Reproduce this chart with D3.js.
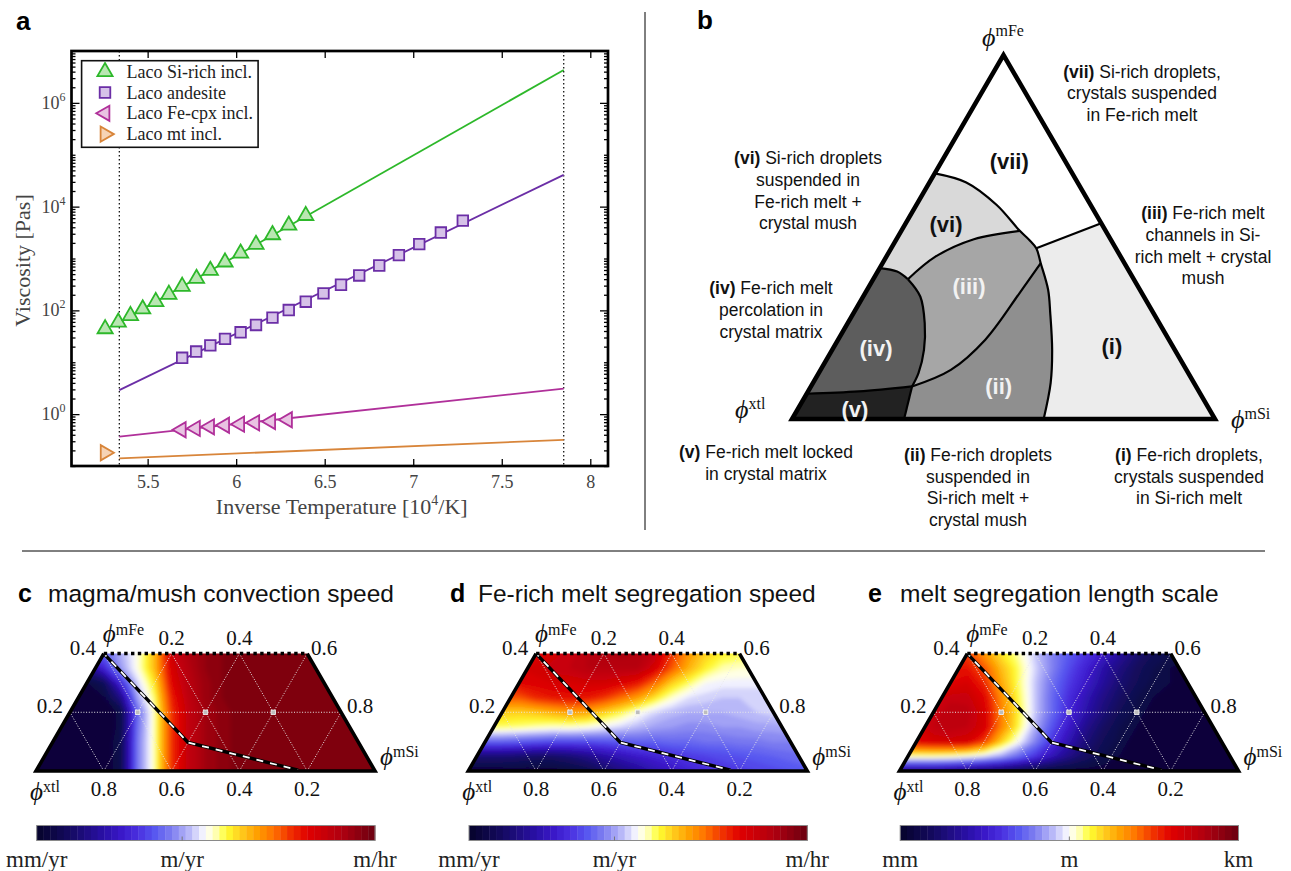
<!DOCTYPE html>
<html>
<head>
<meta charset="utf-8">
<script src="https://cdn.jsdelivr.net/npm/d3@7"></script>
<style>
  body { margin: 0; background: #fff; }
  svg { display: block; }
  .serif { font-family: "Liberation Serif", "DejaVu Serif", serif; }
  .sans { font-family: "Liberation Sans", Arial, sans-serif; }
</style>
</head>
<body>
<svg id="fig" width="1291" height="871">
  <defs>
    <filter id="soft" x="-5%" y="-5%" width="110%" height="110%">
      <feGaussianBlur stdDeviation="2.2"/>
    </filter>
  </defs>
</svg>
<script>
// ---------- panel a: viscosity vs inverse temperature ----------
const xTicksA = [5.5, 6, 6.5, 7, 7.5, 8];
const yTicksA = [1, 100, 1e4, 1e6];
const boundaryX = [5.34, 7.85];

const siRichX = [5.26, 5.334, 5.403, 5.472, 5.546, 5.62, 5.695, 5.776, 5.854, 5.937, 6.025, 6.112, 6.205, 6.297, 6.393];
const siRichVisc = [44, 59, 79, 106, 147, 203, 290, 412, 587, 851, 1259, 1862, 2858, 4365, 6714];
const andesiteX = [5.695, 5.774, 5.854, 5.937, 6.025, 6.112, 6.205, 6.297, 6.393, 6.493, 6.592, 6.695, 6.808, 6.919, 7.034, 7.156, 7.28];
const andesiteVisc = [12.2, 16.1, 21.2, 28.2, 37.8, 52.4, 72.4, 101.6, 146.9, 212.3, 311.9, 471, 733, 1161, 1892, 3162, 5370];
const feCpxX = [5.69, 5.77, 5.85, 5.935, 6.02, 6.105, 6.195, 6.29];
const feCpxVisc = [0.50, 0.53, 0.57, 0.61, 0.64, 0.68, 0.72, 0.78];
const mtX = [5.26];
const mtVisc = [0.18];

// fitted lines, evaluated at the two dotted bounds
const fitX = [5.34, 7.85];
const siRichFit = [59, 4.3e6];
const andesiteFit = [2.9, 4.1e4];
const feCpxFit = [0.37, 3.1];
const mtFit = [0.14, 0.32];

// ---------- panel b: regime diagram (points are [phi_mSi, phi_mFe]) ----------
const mainBoundary = [[0, 0.675], [0.087, 0.65], [0.19, 0.588], [0.28, 0.517], [0.315, 0.492], [0.343, 0.469],
  [0.374, 0.428], [0.428, 0.355], [0.465, 0.291], [0.52, 0.19], [0.562, 0.099], [0.595, 0]];
const viIiiBoundary = [[0.082, 0.384], [0.116, 0.446], [0.183, 0.494], [0.28, 0.517]];
const ivViBoundary = [[0, 0.4145], [0.046, 0.405], [0.082, 0.384]];
const ivIiiBoundary = [[0.082, 0.384], [0.135, 0.3365], [0.182, 0.2635], [0.217, 0.19], [0.236, 0.126], [0.239, 0.0895]];
const iiIiiBoundary = [[0.374, 0.428], [0.365, 0.346], [0.348, 0.218], [0.308, 0.135], [0.239, 0.0895]];
const ivVBoundary = [[0, 0.0694], [0.12, 0.0758], [0.239, 0.0895]];
const vIiBoundary = [[0.239, 0.0895], [0.265, 0]];
const viiILine = [[0.343, 0.469], [0.462, 0.538]];

const regimeNames = ["(vii)", "(vi)", "(iii)", "(iv)", "(ii)", "(v)", "(i)"];
const regimeAt = [[0.16, 0.707], [0.097, 0.534], [0.236, 0.365], [0.101, 0.195], [0.444, 0.089], [0.136, 0.0255], [0.657, 0.1985]];

// ---------- panels c-e: fields, in % of the colour-bar range ----------
const fieldU = [0, 0.05, 0.1, 0.15, 0.2, 0.25, 0.3, 0.35, 0.4, 0.45, 0.5, 0.55, 0.6, 0.65, 0.7, 0.75, 0.8, 0.85, 0.9, 0.95, 1];
const fieldFe = [0, 0.05, 0.1, 0.15, 0.2, 0.25, 0.3, 0.35, 0.4];
const gridLevels = [0.2, 0.4, 0.6, 0.8];
const phaseLine = [[0, 0.4], [0.4, 0.097], [0.772, 0.003]];

const convectionSpeed = [
  [2, 2, 2, 2, 2, 6, 39, 53, 75, 86, 92, 95, 97, 97, 97, 97, 97, 97, 97, 97, 97],
  [2, 2, 2, 2, 2, 6, 39, 53, 75, 86, 92, 95, 97, 97, 97, 97, 97, 97, 97, 97, 97],
  [2, 2, 2, 2, 2, 6, 39, 53, 75, 86, 92, 95, 97, 97, 97, 97, 97, 97, 97, 97, 97],
  [2, 2, 2, 2, 2, 5, 38, 53, 75, 86, 92, 95, 97, 97, 97, 97, 97, 97, 97, 97, 97],
  [2, 2, 2, 2, 2, 5, 37, 53, 75, 86, 92, 95, 97, 97, 97, 97, 97, 97, 97, 97, 97],
  [3, 3, 3, 3, 4, 15, 43, 55, 77, 87, 93, 96, 97, 97, 97, 97, 97, 97, 97, 97, 97],
  [4, 4, 4, 4, 8, 28, 47, 58, 80, 88, 93, 96, 97, 97, 97, 97, 97, 97, 97, 97, 97],
  [15, 15, 15, 15, 27, 42, 51, 62, 82, 89, 94, 96, 97, 97, 97, 97, 97, 97, 97, 97, 97],
  [36, 36, 36, 36, 36, 44, 51, 62, 84, 90, 94, 96, 97, 97, 97, 97, 97, 97, 97, 97, 97]
];
const segregationSpeed = [
  [3, 3, 3, 3, 3, 3, 4, 6, 10, 14, 17, 21, 24, 27, 29, 30, 31, 32, 33, 34, 35],
  [12, 12, 12, 11, 10, 10, 12, 15, 19, 22, 25, 27, 29, 31, 32, 33, 34, 35, 36, 37, 38],
  [36, 36, 36, 35, 34, 33, 33, 33, 34, 35, 36, 36, 37, 37, 38, 38, 39, 39, 40, 40, 41],
  [55, 55, 55, 54, 53, 52, 52, 51, 49, 47, 45, 43, 42, 41, 41, 42, 42, 43, 43, 44, 44],
  [60, 60, 60, 60, 61, 63, 65, 64, 60, 56, 51, 47, 45, 44, 44, 44, 45, 46, 47, 47, 47],
  [72, 72, 72, 72, 76, 78, 79, 78, 75, 70, 65, 58, 52, 48, 47, 46, 46, 46, 47, 47, 47],
  [80, 80, 80, 80, 81, 82, 82, 83, 83, 81, 78, 70, 60, 55, 50, 49, 49, 49, 49, 49, 49],
  [82, 82, 82, 82, 83, 85, 86, 88, 88, 88, 88, 82, 72, 63, 57, 53, 52, 52, 52, 52, 52],
  [80, 80, 80, 80, 80, 83, 85, 88, 90, 91, 90, 86, 75, 66, 60, 57, 56, 56, 56, 56, 56]
];
const segregationLength = [
  [15, 15, 15, 14, 12, 10, 8, 6, 4, 3, 3, 3, 3, 3, 3, 3, 3, 3, 3, 3, 3],
  [53, 53, 53, 52, 50, 47, 43, 37, 30, 22, 15, 10, 6, 4, 3, 3, 3, 3, 3, 3, 3],
  [80, 80, 82, 83, 82, 74, 60, 50, 40, 30, 21, 13, 8, 5, 3, 3, 3, 3, 3, 3, 3],
  [82, 82, 86, 87, 86, 82, 68, 56, 44, 34, 25, 16, 10, 6, 4, 3, 3, 3, 3, 3, 3],
  [84, 84, 84, 88, 87, 82, 68, 57, 46, 37, 28, 20, 13, 8, 5, 3, 3, 3, 3, 3, 3],
  [82, 82, 82, 85, 85, 80, 67, 56, 46, 37, 29, 22, 15, 10, 6, 4, 3, 3, 3, 3, 3],
  [80, 80, 80, 80, 82, 76, 64, 55, 46, 38, 31, 25, 18, 12, 8, 5, 4, 3, 3, 3, 3],
  [78, 78, 78, 78, 78, 72, 62, 55, 47, 40, 33, 27, 20, 14, 9, 6, 4, 3, 3, 3, 3],
  [74, 74, 74, 74, 74, 66, 58, 53, 46, 40, 35, 30, 25, 18, 12, 8, 6, 5, 5, 5, 5]
];

const cmapStops = [0, 0.1, 0.2, 0.25, 0.3, 0.35, 0.4, 0.45, 0.5, 0.53, 0.56, 0.6, 0.65, 0.7, 0.75, 0.8, 0.9, 1];
const cmapColors = ["#05032a", "#150a62", "#2a10a8", "#3a18c8", "#4a30e0", "#5858f0", "#8080f0", "#b8b8f8", "#ffffff",
  "#ffffb0", "#ffff30", "#ffd020", "#ffa000", "#ff7000", "#f03000", "#e00000", "#b00010", "#6a0010"];
const cmap = d3.scaleLinear().domain(cmapStops).range(cmapColors).interpolate(d3.interpolateRgb);
const cbLevels = d3.range(0, 1, 0.02);

const svg = d3.select("#fig");

// ===================== panel a =====================
const aLeft = 71.5, aRight = 608, aTop = 51, aBottom = 466;
const xA = d3.scaleLinear().domain([5.07, 8.1]).range([aLeft, aRight]);
const yA = d3.scaleLog().domain([0.1, 1e7]).range([aBottom, aTop]);

const seriesA = [
  { name: "Laco Si-rich incl.", x: siRichX, y: siRichVisc, fit: siRichFit, stroke: "#2db82a", fill: "#b9e6b2", type: d3.symbolTriangle, size: 100, rot: 0 },
  { name: "Laco andesite", x: andesiteX, y: andesiteVisc, fit: andesiteFit, stroke: "#6b2ea6", fill: "#d6c2e8", type: d3.symbolSquare, size: 112, rot: 0 },
  { name: "Laco Fe-cpx incl.", x: feCpxX, y: feCpxVisc, fit: feCpxFit, stroke: "#b0309a", fill: "#e9c3e2", type: d3.symbolTriangle, size: 100, rot: -90 },
  { name: "Laco mt incl.", x: mtX, y: mtVisc, fit: mtFit, stroke: "#d8853a", fill: "#f6d3b5", type: d3.symbolTriangle, size: 100, rot: 90 }
];

svg.append("clipPath").attr("id", "clipA").append("rect")
  .attr("x", aLeft).attr("y", aTop).attr("width", aRight - aLeft).attr("height", aBottom - aTop);
const plotA = svg.append("g").attr("clip-path", "url(#clipA)");

plotA.selectAll(".bound").data(boundaryX).join("line")
  .attr("x1", d => xA(d)).attr("x2", d => xA(d)).attr("y1", aTop).attr("y2", aBottom)
  .attr("stroke", "#000").attr("stroke-width", 1.2).attr("stroke-dasharray", "1.4,2.6");

const fitLine = d3.line().x(d => xA(d[0])).y(d => yA(d[1]));
seriesA.forEach(s => {
  plotA.append("path").attr("d", fitLine(d3.zip(fitX, s.fit)))
    .attr("fill", "none").attr("stroke", s.stroke).attr("stroke-width", 1.8);
});
seriesA.forEach(s => {
  plotA.append("g").selectAll("path").data(d3.zip(s.x, s.y)).join("path")
    .attr("d", d3.symbol().type(s.type).size(s.size))
    .attr("transform", d => `translate(${xA(d[0])},${yA(d[1])}) rotate(${s.rot})`)
    .attr("fill", s.fill).attr("stroke", s.stroke).attr("stroke-width", 1.8);
});

// ticks on all four sides
const minorY = yA.ticks().filter(v => !yTicksA.includes(v));
const noDomain = g => g.select(".domain").remove();
svg.append("g").attr("transform", `translate(0,${aBottom})`)
  .call(d3.axisBottom(xA).tickValues(xTicksA).tickSize(-7).tickPadding(9).tickFormat(d3.format(".1~f")))
  .call(noDomain)
  .call(g => g.selectAll("text").attr("class", "serif").attr("font-size", 18).attr("fill", "#444"));
svg.append("g").attr("transform", `translate(0,${aTop})`)
  .call(d3.axisTop(xA).tickValues(xTicksA).tickSize(-7).tickFormat("")).call(noDomain);
[[aLeft, d3.axisLeft], [aRight, d3.axisRight]].forEach(([x, axis]) => {
  svg.append("g").attr("transform", `translate(${x},0)`)
    .call(axis(yA).tickValues(yTicksA).tickSize(-8).tickFormat("")).call(noDomain);
  svg.append("g").attr("transform", `translate(${x},0)`)
    .call(axis(yA).tickValues(minorY).tickSize(-4).tickFormat("")).call(noDomain);
});
svg.selectAll(".tick line").attr("stroke", "#000").attr("stroke-width", 1.3);

const yLab = svg.append("g").selectAll("text").data(yTicksA).join("text")
  .attr("class", "serif").attr("font-size", 18).attr("fill", "#444").attr("text-anchor", "end")
  .attr("x", aLeft - 6).attr("y", d => yA(d) + 6);
yLab.append("tspan").text("10");
yLab.append("tspan").attr("font-size", 12).attr("dy", -8).text(d => Math.round(Math.log10(d)));

svg.append("rect").attr("x", aLeft).attr("y", aTop).attr("width", aRight - aLeft).attr("height", aBottom - aTop)
  .attr("fill", "none").attr("stroke", "#000").attr("stroke-width", 2.7);

svg.append("text").attr("class", "serif").attr("font-size", 22).attr("fill", "#444")
  .attr("text-anchor", "middle").attr("transform", `translate(30,${(aTop + aBottom) / 2 + 2}) rotate(-90)`)
  .text("Viscosity [Pas]");
const xTitle = svg.append("text").attr("class", "serif").attr("font-size", 22).attr("fill", "#444")
  .attr("text-anchor", "middle").attr("x", (aLeft + aRight) / 2 + 2).attr("y", 514);
xTitle.append("tspan").text("Inverse Temperature [10");
xTitle.append("tspan").attr("font-size", 14).attr("dy", -9).text("4");
xTitle.append("tspan").attr("dy", 9).text("/K]");

// legend
const legA = svg.append("g");
legA.append("rect").attr("x", 81.6).attr("y", 60.7).attr("width", 176.5).attr("height", 86.6)
  .attr("fill", "#fff").attr("stroke", "#111").attr("stroke-width", 1.6);
seriesA.forEach((s, i) => {
  const y = 71.7 + i * 20.8;
  legA.append("path").attr("d", d3.symbol().type(s.type).size(s.size))
    .attr("transform", `translate(105,${y}) rotate(${s.rot})`)
    .attr("fill", s.fill).attr("stroke", s.stroke).attr("stroke-width", 1.8);
  legA.append("text").attr("class", "serif").attr("font-size", 18).attr("fill", "#222")
    .attr("x", 126.5).attr("y", y + 6).text(s.name);
});

svg.append("text").attr("class", "sans").attr("font-weight", "bold").attr("font-size", 26)
  .attr("x", 16).attr("y", 30).text("a");

// dividers
svg.append("line").attr("x1", 645).attr("x2", 645).attr("y1", 12).attr("y2", 530).attr("stroke", "#000").attr("stroke-width", 1);
svg.append("line").attr("x1", 22).attr("x2", 1265).attr("y1", 551).attr("y2", 551).attr("stroke", "#000").attr("stroke-width", 1);

// ===================== panel b =====================
const tx = d3.scaleLinear().domain([0, 1]).range([792, 1215]);
const ty = d3.scaleLinear().domain([0, 1]).range([419, 55]);
const tp = d => [tx(d[0] + d[1] / 2), ty(d[1])];
const tCurve = d3.line().x(d => tp(d)[0]).y(d => tp(d)[1]).curve(d3.curveCatmullRom.alpha(0.5));
const rev = a => a.slice().reverse();
const region = (...parts) => parts.map((p, i) => {
  const s = tCurve(p);
  return i ? s.replace(/^M/, "L") : s;
}).join("") + "Z";

const apex = [0, 1], xtlCorner = [0, 0], siCorner = [1, 0];
const L1 = ivViBoundary[0], L2 = ivVBoundary[0], B1 = vIiBoundary[1], H = mainBoundary[11], R = viiILine[1];
const gB = svg.append("g");
const regimes = [
  { fill: "#ffffff", d: region([apex, mainBoundary[0]], mainBoundary.slice(0, 6), viiILine, [R, apex]) },
  { fill: "#d9d9d9", d: region(mainBoundary.slice(0, 4), rev(viIiiBoundary), rev(ivViBoundary), [L1, mainBoundary[0]]) },
  { fill: "#a6a6a6", d: region(viIiiBoundary, mainBoundary.slice(3, 7), iiIiiBoundary, rev(ivIiiBoundary)) },
  { fill: "#5d5d5d", d: region(ivViBoundary, ivIiiBoundary, rev(ivVBoundary), [L2, L1]) },
  { fill: "#222222", d: region(ivVBoundary, vIiBoundary, [B1, xtlCorner], [xtlCorner, L2]) },
  { fill: "#8f8f8f", d: region(rev(iiIiiBoundary), mainBoundary.slice(6), [H, B1], rev(vIiBoundary)) },
  { fill: "#ececec", d: region(rev(viiILine), mainBoundary.slice(5), [H, siCorner], [siCorner, R]) }
];
gB.selectAll(".reg").data(regimes).join("path").attr("d", d => d.d).attr("fill", d => d.fill);
gB.selectAll(".bnd").data([mainBoundary, viIiiBoundary, ivViBoundary, ivIiiBoundary, iiIiiBoundary, ivVBoundary, vIiBoundary, viiILine])
  .join("path").attr("d", tCurve).attr("fill", "none").attr("stroke", "#000").attr("stroke-width", 2.2);
gB.append("path").attr("d", d3.line()([xtlCorner, siCorner, apex].map(tp)) + "Z")
  .attr("fill", "none").attr("stroke", "#000").attr("stroke-width", 4.5).attr("stroke-linejoin", "miter");

const lightText = ["(iii)", "(iv)", "(ii)", "(v)"];
gB.selectAll(".rl").data(regimeNames).join("text").attr("class", "sans")
  .attr("font-weight", "bold").attr("font-size", 22).attr("text-anchor", "middle").attr("dominant-baseline", "central")
  .attr("x", (d, i) => tp(regimeAt[i])[0]).attr("y", (d, i) => tp(regimeAt[i])[1])
  .attr("fill", d => lightText.includes(d) ? "#f2f2f2" : "#111").text(d => d);

const notes = [
  { x: 1142, y: 71.7, tag: "(vii)", lines: [" Si-rich droplets,", "crystals suspended", "in Fe-rich melt"] },
  { x: 808, y: 158.3, tag: "(vi)", lines: [" Si-rich droplets", "suspended in", "Fe-rich melt +", "crystal mush"] },
  { x: 1203, y: 213.3, tag: "(iii)", lines: [" Fe-rich melt", "channels in Si-", "rich melt + crystal", "mush"] },
  { x: 771, y: 288.3, tag: "(iv)", lines: [" Fe-rich melt", "percolation in", "crystal matrix"] },
  { x: 766, y: 452, tag: "(v)", lines: [" Fe-rich melt locked", "in crystal matrix"] },
  { x: 978, y: 455, tag: "(ii)", lines: [" Fe-rich droplets", "suspended in", "Si-rich melt +", "crystal mush"] },
  { x: 1189, y: 455, tag: "(i)", lines: [" Fe-rich droplets,", "crystals suspended", "in Si-rich melt"] }
];
notes.forEach(n => {
  n.lines.forEach((line, i) => {
    const t = gB.append("text").attr("class", "sans").attr("font-size", 17.5).attr("fill", "#111")
      .attr("text-anchor", "middle").attr("dominant-baseline", "central")
      .attr("x", n.x).attr("y", n.y + i * 21.6);
    if (i === 0) t.append("tspan").attr("font-weight", "bold").text(n.tag);
    t.append("tspan").text(line);
  });
});

function phiLabel(g, x, y, sup, size, supSize, raise) {
  const t = g.append("text").attr("class", "serif").attr("font-size", size).attr("x", x).attr("y", y).attr("fill", "#111");
  t.append("tspan").attr("font-style", "italic").text("\u03D5");
  t.append("tspan").attr("font-size", supSize).attr("dy", -raise).text(sup);
  return t;
}
phiLabel(gB, 982, 46, "mFe", 26, 16, 10);
phiLabel(gB, 735, 418, "xtl", 26, 16, 9);
phiLabel(gB, 1231, 428, "mSi", 26, 16, 9);

svg.append("text").attr("class", "sans").attr("font-weight", "bold").attr("font-size", 26)
  .attr("x", 697).attr("y", 29).text("b");

// ===================== panels c, d, e =====================
const panels = [
  { x0: 36, letter: "c", letterX: 18, titleX: 48, title: "magma/mush convection speed", grid: convectionSpeed, cb: ["mm/yr", "m/yr", "m/hr"], cbAt: [0, 0.43, 1] },
  { x0: 468.3, letter: "d", letterX: 450, titleX: 478, title: "Fe-rich melt segregation speed", grid: segregationSpeed, cb: ["mm/yr", "m/yr", "m/hr"], cbAt: [0, 0.43, 1] },
  { x0: 899.5, letter: "e", letterX: 868, titleX: 900, title: "melt segregation length scale", grid: segregationLength, cb: ["mm", "m", "km"], cbAt: [0, 0.5, 1] }
];

panels.forEach(p => {
  const W = 339, Ht = 293.6, yB = 771;
  const g = svg.append("g");
  const ux = d3.scaleLinear().domain([0, 1]).range([p.x0, p.x0 + W]);
  const ry = d3.scaleLinear().domain([0, 1]).range([yB, yB - Ht]);
  const pt = d => [ux(d[0] + d[1] / 2), ry(d[1])];
  const trap = [[0, 0], [0, 0.4], [0.6, 0.4], [1, 0]];
  const clipId = "clip" + p.letter;
  g.append("clipPath").attr("id", clipId).append("path").attr("d", d3.line()(trap.map(pt)) + "Z");

  // colour field from the value grid (filtered first, then clipped)
  const nc = fieldU.length, nr = fieldFe.length;
  const cx = d3.scaleLinear().domain([0.5, nc - 0.5]).range([ux(fieldU[0]), ux(fieldU[nc - 1])]);
  const cy = d3.scaleLinear().domain([0.5, nr - 0.5]).range([ry(fieldFe[0]), ry(fieldFe[nr - 1])]);
  const path = d3.geoPath(d3.geoTransform({ point(x, y) { this.stream.point(cx(x), cy(y)); } }));
  const bands = d3.contours().size([nc, nr]).smooth(true).thresholds(cbLevels)(p.grid.flat().map(v => v / 100));
  const field = g.append("g").attr("clip-path", `url(#${clipId})`)
    .append("g").attr("filter", "url(#soft)");
  field.selectAll("path").data(bands).join("path").attr("d", path)
    .attr("fill", d => cmap(d.value + 0.01)).attr("stroke", d => cmap(d.value + 0.01)).attr("stroke-width", 0.6);

  // ternary grid
  const over = g.append("g").attr("clip-path", `url(#${clipId})`);
  const gridLines = [];
  gridLevels.forEach(v => {
    gridLines.push([[v, 0], [v, 1 - v]]);
    gridLines.push([[1 - v, 0], [0, 1 - v]]);
  });
  gridLines.push([[0, 0.2], [0.8, 0.2]]);
  over.selectAll(".gl").data(gridLines).join("path").attr("d", d => d3.line()(d.map(pt)))
    .attr("stroke", "#e8e8e8").attr("stroke-width", 1).attr("stroke-dasharray", "1,1.7").attr("fill", "none");
  over.selectAll(".nd").data([[0.2, 0.2], [0.4, 0.2], [0.6, 0.2]]).join("rect")
    .attr("x", d => pt(d)[0] - 2.2).attr("y", d => pt(d)[1] - 2.2).attr("width", 4.4).attr("height", 4.4)
    .attr("fill", "#bdbdbd").attr("stroke", "#f4f4f4").attr("stroke-width", 0.8);

  // phase boundary
  const pl = d3.line()(phaseLine.map(pt));
  g.append("path").attr("d", pl).attr("fill", "none").attr("stroke", "#000").attr("stroke-width", 3.4);
  g.append("path").attr("d", pl).attr("fill", "none").attr("stroke", "#fff").attr("stroke-width", 1.8)
    .attr("stroke-dasharray", "7,7").attr("stroke-dashoffset", 3);

  // outline
  g.append("path").attr("d", d3.line()([[0.6, 0.4], [1, 0], [0, 0], [0, 0.4]].map(pt)))
    .attr("fill", "none").attr("stroke", "#000").attr("stroke-width", 3.6).attr("stroke-linejoin", "miter");
  g.append("path").attr("d", d3.line()([[0, 0.4], [0.6, 0.4]].map(pt)))
    .attr("fill", "none").attr("stroke", "#000").attr("stroke-width", 3.6).attr("stroke-dasharray", "3.4,3.4");

  // tick labels
  const lab = (x, y, s) => g.append("text").attr("class", "serif").attr("font-size", 21).attr("fill", "#111")
    .attr("text-anchor", "middle").attr("x", x).attr("y", y).text(s);
  gridLevels.forEach(v => lab(pt([1 - v, 0])[0], yB + 25, d3.format(".1f")(v)));
  [0.2, 0.4].forEach(v => lab(pt([v, 0.4])[0], ry(0.4) - 9, d3.format(".1f")(v)));
  lab(pt([0, 0.4])[0] - 21, ry(0.4) + 1, "0.4");
  lab(pt([0, 0.2])[0] - 20, ry(0.2) + 1, "0.2");
  lab(pt([0.6, 0.4])[0] + 17, ry(0.4) + 1, "0.6");
  lab(pt([0.8, 0.2])[0] + 19, ry(0.2) + 1, "0.8");

  phiLabel(g, ux(0.2) - 1, ry(0.4) - 12, "mFe", 25, 16, 7);
  phiLabel(g, p.x0 - 6, yB + 29, "xtl", 25, 16, 8);
  phiLabel(g, p.x0 + W + 5, yB - 6, "mSi", 25, 16, 8);

  // title
  svg.append("text").attr("class", "sans").attr("font-weight", "bold").attr("font-size", 25)
    .attr("x", p.letterX).attr("y", 602).text(p.letter);
  svg.append("text").attr("class", "sans").attr("font-size", 24.5).attr("fill", "#111")
    .attr("x", p.titleX).attr("y", 602).text(p.title);

  // colour bar
  const cbx = d3.scaleLinear().domain([0, 1]).range([p.x0 + 0.7, p.x0 + W]);
  const cb = svg.append("g");
  cb.selectAll("rect").data(cbLevels).join("rect")
    .attr("x", d => cbx(d)).attr("width", cbx(0.02) - cbx(0) + 0.4).attr("y", 825.5).attr("height", 15)
    .attr("fill", d => cmap(d + 0.01));
  cb.append("rect").attr("x", cbx(0)).attr("y", 825.5).attr("width", cbx(1) - cbx(0)).attr("height", 15)
    .attr("fill", "none").attr("stroke", "#8a8a8a").attr("stroke-width", 1);
  cb.append("line").attr("x1", cbx(p.cbAt[1])).attr("x2", cbx(p.cbAt[1])).attr("y1", 836.5).attr("y2", 840.5)
    .attr("stroke", "#777").attr("stroke-width", 1);
  cb.selectAll("text").data(p.cb).join("text").attr("class", "serif").attr("font-size", 23).attr("fill", "#222")
    .attr("text-anchor", "middle").attr("x", (d, i) => cbx(p.cbAt[i])).attr("y", 867).text(d => d);
});
</script>
</body>
</html>
